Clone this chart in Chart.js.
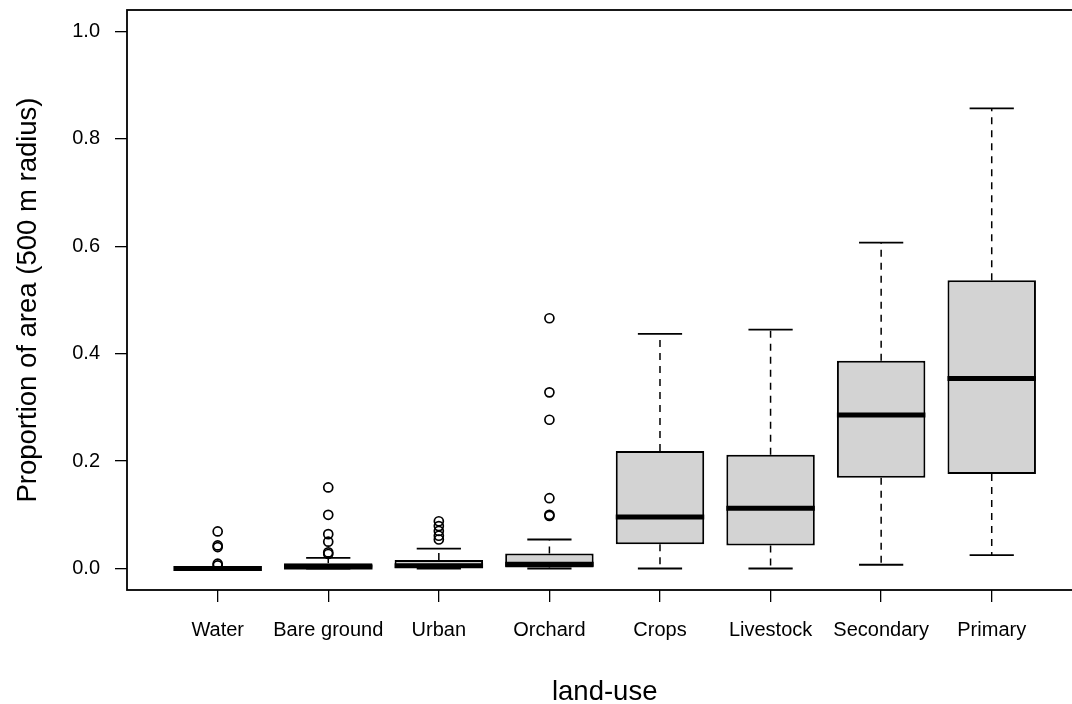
<!DOCTYPE html>
<html>
<head>
<meta charset="utf-8">
<title>Proportion of area by land-use</title>
<script src="https://cdn.jsdelivr.net/npm/chart.js@4/dist/chart.umd.min.js"></script>
<style>
  html, body { margin: 0; padding: 0; background: #ffffff; overflow: hidden; }
  #marco { width: 1072px; height: 704px; overflow: hidden; position: relative; }
  #cajas { display: block; }
</style>
</head>
<body>
<div id="marco"><canvas id="cajas" width="1100" height="704"></canvas></div>
<script>
// datos
var categorias = ["Water", "Bare ground", "Urban", "Orchard", "Crops", "Livestock", "Secondary", "Primary"];
var bigoteInf = [0, 0, 0, 0, 0, 0, 0.007, 0.025];
var cuartil1 = [0, 0, 0.001, 0.002, 0.045, 0.043, 0.169, 0.176];
var mediana = [0, 0.003, 0.005, 0.008, 0.096, 0.112, 0.286, 0.354];
var cuartil3 = [0, 0.010, 0.016, 0.028, 0.219, 0.212, 0.387, 0.537];
var bigoteSup = [0, 0.020, 0.037, 0.054, 0.437, 0.445, 0.607, 0.857];
var atipicos = [
    [0.069, 0.043, 0.040, 0.009, 0.006],
    [0.151, 0.100, 0.064, 0.050, 0.030, 0.027],
    [0.088, 0.079, 0.070, 0.061, 0.054],
    [0.466, 0.328, 0.277, 0.131, 0.100, 0.098],
    [], [], [], []
];
var ticksY = [0, 0.2, 0.4, 0.6, 0.8, 1.0];

var fuente = "'Liberation Sans', Arial, sans-serif";

function datosCajas() {
    return categorias.map(function (c, i) {
        return { x: i + 1, y: [cuartil1[i], cuartil3[i]] };
    });
}

function datosAtipicos() {
    var puntos = [];
    atipicos.forEach(function (lista, i) {
        lista.forEach(function (v) {
            puntos.push({ x: i + 1, y: v });
        });
    });
    return puntos;
}

// bigotes, topes, medianas y marco
var pluginCajas = {
    id: "cajas",
    beforeDatasetsDraw: function (chart) {
        var ctx = chart.ctx;
        var sx = chart.scales.x;
        var sy = chart.scales.y;
        ctx.save();
        ctx.strokeStyle = "#000000";
        categorias.forEach(function (c, i) {
            var px = sx.getPixelForValue(i + 1);
            ctx.lineWidth = 1.5;
            ctx.setLineDash([7, 6]);
            ctx.beginPath();
            ctx.moveTo(px, sy.getPixelForValue(cuartil3[i]));
            ctx.lineTo(px, sy.getPixelForValue(bigoteSup[i]));
            ctx.moveTo(px, sy.getPixelForValue(cuartil1[i]));
            ctx.lineTo(px, sy.getPixelForValue(bigoteInf[i]));
            ctx.stroke();
            ctx.setLineDash([]);
            ctx.lineWidth = 1.8;
            var a = sx.getPixelForValue(i + 1 - 0.2);
            var b = sx.getPixelForValue(i + 1 + 0.2);
            ctx.beginPath();
            ctx.moveTo(a, sy.getPixelForValue(bigoteSup[i]));
            ctx.lineTo(b, sy.getPixelForValue(bigoteSup[i]));
            ctx.moveTo(a, sy.getPixelForValue(bigoteInf[i]));
            ctx.lineTo(b, sy.getPixelForValue(bigoteInf[i]));
            ctx.stroke();
        });
        ctx.restore();
    },
    afterDatasetDraw: function (chart, args) {
        if (args.index !== 0) {
            return;
        }
        var ctx = chart.ctx;
        var sy = chart.scales.y;
        ctx.save();
        ctx.strokeStyle = "#000000";
        ctx.lineWidth = 5;
        args.meta.data.forEach(function (barra, i) {
            var py = sy.getPixelForValue(mediana[i]);
            ctx.beginPath();
            ctx.moveTo(barra.x - barra.width / 2, py);
            ctx.lineTo(barra.x + barra.width / 2, py);
            ctx.stroke();
        });
        ctx.restore();
    },
    afterDraw: function (chart) {
        var a = chart.chartArea;
        var ctx = chart.ctx;
        ctx.save();
        ctx.strokeStyle = "#000000";
        ctx.lineWidth = 1.8;
        ctx.strokeRect(a.left, a.top, a.right - a.left, a.bottom - a.top);
        ctx.restore();
    }
};

function cargaGraficoCajas() {
    "use strict";
    var lienzo = document.getElementById("cajas").getContext("2d");
    new Chart(lienzo, {
        type: "bar",
        data: {
            datasets: [{
                type: "bar",
                label: "caja",
                data: datosCajas(),
                backgroundColor: "#D3D3D3",
                borderColor: "#000000",
                borderWidth: 2,
                borderSkipped: false,
                categoryPercentage: 1,
                barPercentage: 0.8,
                order: 2
            }, {
                type: "scatter",
                label: "atipicos",
                data: datosAtipicos(),
                pointStyle: "circle",
                pointRadius: 4.5,
                pointBorderWidth: 1.7,
                pointBackgroundColor: "rgba(0,0,0,0)",
                pointBorderColor: "#000000",
                order: 1
            }]
        },
        options: {
            responsive: false,
            animation: false,
            events: [],
            layout: { padding: { top: 10, right: 17.6, left: 0, bottom: 0 } },
            plugins: {
                legend: { display: false },
                tooltip: { enabled: false }
            },
            scales: {
                x: {
                    type: "linear",
                    min: 0.18,
                    max: 8.82,
                    offset: false,
                    border: { display: false },
                    grid: { offset: false, drawOnChartArea: false, drawTicks: true, tickLength: 12, color: "#000000", lineWidth: 1.3 },
                    ticks: {
                        color: "#000000",
                        font: { family: fuente, size: 20 },
                        padding: 16,
                        maxRotation: 0,
                        autoSkip: false,
                        callback: function (v) { return categorias[v - 1]; }
                    },
                    title: {
                        display: true,
                        text: "land-use",
                        color: "#000000",
                        font: { family: fuente, size: 27.5, lineHeight: 0.85 },
                        padding: { top: 0, bottom: 0 }
                    },
                    afterBuildTicks: function (escala) {
                        escala.ticks = categorias.map(function (c, i) { return { value: i + 1 }; });
                    },
                    afterFit: function (escala) {
                        escala.height = 114;
                        escala.paddingLeft = 0;
                        escala.paddingRight = 0;
                    }
                },
                y: {
                    min: -0.04,
                    max: 1.04,
                    border: { display: false },
                    grid: { drawOnChartArea: false, drawTicks: true, tickLength: 12, color: "#000000", lineWidth: 1.3 },
                    ticks: {
                        color: "#000000",
                        font: { family: fuente, size: 20 },
                        padding: 15,
                        callback: function (v) { return v.toFixed(1); }
                    },
                    title: {
                        display: true,
                        text: "Proportion of area (500 m radius)",
                        color: "#000000",
                        font: { family: fuente, size: 27.5, lineHeight: 1 },
                        padding: { top: 15, bottom: 0 }
                    },
                    afterBuildTicks: function (escala) {
                        escala.ticks = ticksY.map(function (v) { return { value: v }; });
                    },
                    afterFit: function (escala) {
                        escala.width = 127;
                        escala.paddingTop = 0;
                        escala.paddingBottom = 0;
                    }
                }
            }
        },
        plugins: [pluginCajas]
    });
}

window.onload = function () {
    "use strict";
    cargaGraficoCajas();
};
</script>
</body>
</html>
